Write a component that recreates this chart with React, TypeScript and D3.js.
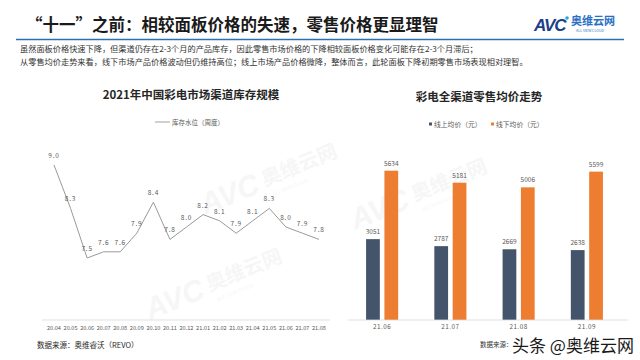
import React from 'react';
import * as d3 from 'd3';

// line chart: channel inventory (weeks)
const months = ['20.04', '20.05', '20.06', '20.07', '20.08', '20.09', '20.10', '20.11', '20.12', '21.01', '21.02', '21.03', '21.04', '21.05', '21.06', '21.07', '21.08'];
const stockWeeks = [9.0, 8.3, 7.5, 7.6, 7.6, 7.9, 8.4, 7.8, 8.0, 8.2, 8.1, 7.9, 8.1, 8.3, 8.0, 7.9, 7.8];

// bar chart: average retail price
const priceMonths = ['21.06', '21.07', '21.08', '21.09'];
const onlinePrice = [3051, 2787, 2669, 2638];
const offlinePrice = [5634, 5181, 5006, 5599];
const seriesKeys = ['online', 'offline'];
const seriesNames = ['线上均价（元）', '线下均价（元）'];
const seriesColors = ['#44546a', '#ed7d31'];

const FONT = '"Noto Sans CJK SC", "Noto Sans", sans-serif';

const Watermark = ({ x, y }: { x: number; y: number }) => (
  <g transform={`translate(${x},${y}) rotate(-22)`} opacity={0.35}>
    <text x={0} y={0} fontSize={30} fontWeight={900} fontStyle="italic" fill="#e6e6e6" fontFamily="Liberation Sans, sans-serif">AVC</text>
    <text x={66} y={-4} fontSize={20} fontWeight={700} fill="#e8e8e8" fontFamily={FONT}>奥维云网</text>
    <text x={70} y={8} fontSize={5} fill="#e8e8e8" fontFamily={FONT}>ALL VIEW CLOUD</text>
  </g>
);

const LineChart = () => {
  const x = d3.scalePoint<string>().domain(months).range([54, 319]);
  const y = d3.scaleLinear().domain([6.5, 9.5]).range([320, 134]);
  const path = d3.line<number>()
    .x((_, i) => x(months[i]) as number)
    .y(d => y(d))(stockWeeks);

  return (
    <g fontFamily={FONT}>
      <text x={191} y={99} textAnchor="middle" fontSize={11.5} fontWeight={700} fill="#262626">2021年中国彩电市场渠道库存规模</text>
      <line x1={155} x2={170} y1={122} y2={122} stroke="#8c8c8c" strokeWidth={0.8} />
      <text x={172} y={124.5} fontSize={6.5} fill="#595959">库存水位（周度）</text>
      <line x1={42} x2={330} y1={320} y2={320} stroke="#d9d9d9" strokeWidth={0.8} />
      <path d={path ?? ''} fill="none" stroke="#9a9a9a" strokeWidth={1} />
      {stockWeeks.map((v, i) => (
        <text key={months[i]} x={x(months[i])} y={y(v) - 7} textAnchor="middle" fontSize={6.5} fill="#595959" letterSpacing={0.8}>{v.toFixed(1)}</text>
      ))}
      {months.map(m => (
        <text key={m} x={x(m)} y={330} textAnchor="middle" fontSize={5.6} fill="#595959">{m}</text>
      ))}
      <text x={37} y={348} fontSize={7.5} fill="#262626">数据来源：奥维睿沃（REVO）</text>
    </g>
  );
};

const BarChart = () => {
  const x0 = d3.scaleBand<string>().domain(priceMonths).range([348, 621]).paddingInner(0.53).paddingOuter(0.265);
  const x1 = d3.scaleBand<string>().domain(seriesKeys).range([0, x0.bandwidth()]).paddingInner(0.25);
  const y = d3.scaleLinear().domain([0, 6000]).range([320, 161]);
  const values = [onlinePrice, offlinePrice];

  return (
    <g fontFamily={FONT}>
      <text x={479} y={101} textAnchor="middle" fontSize={11.5} fontWeight={700} fill="#262626">彩电全渠道零售均价走势</text>
      {seriesKeys.map((k, j) => (
        <g key={k} transform={`translate(${j === 0 ? 429 : 491},124)`}>
          <rect x={0} y={-1.5} width={3} height={3} fill={seriesColors[j]} />
          <text x={5} y={2.5} fontSize={6.8} fill="#595959">{seriesNames[j]}</text>
        </g>
      ))}
      {priceMonths.map((m, i) => (
        <g key={m} transform={`translate(${x0(m)},0)`}>
          {seriesKeys.map((k, j) => {
            const v = values[j][i];
            return (
              <g key={k}>
                <rect x={x1(k)} y={y(v)} width={x1.bandwidth()} height={y(0) - y(v)} fill={seriesColors[j]} />
                <text x={(x1(k) as number) + x1.bandwidth() / 2} y={y(v) - 5} textAnchor="middle" fontSize={6.5} fill="#595959">{v}</text>
              </g>
            );
          })}
          <text x={x0.bandwidth() / 2} y={328.5} textAnchor="middle" fontSize={6.3} fill="#595959" letterSpacing={0.5}>{m}</text>
        </g>
      ))}
      <line x1={348} x2={628} y1={320} y2={320} stroke="#d9d9d9" strokeWidth={0.8} />
    </g>
  );
};

export default function App() {
  return (
    <svg width={640} height={360} style={{ position: 'absolute', left: 0, top: 0, background: '#fff' }}>
      <rect width={640} height={360} fill="#fff" />
      <Watermark x={205} y={215} />
      <Watermark x={150} y={320} />
      <Watermark x={355} y={230} />
      {/* header */}
      <g fontFamily={FONT}>
        <text x={26} y={31} fontSize={16.5} fontWeight={700} fill="#1a1a1a">“十一”之前：相较面板价格的失速，零售价格更显理智</text>
        <line x1={16} x2={624} y1={39.5} y2={39.5} stroke="#2e6fae" strokeWidth={1.5} />
        <text x={20} y={52} fontSize={8.2} fill="#333">虽然面板价格快速下降，但渠道仍存在2-3个月的产品库存，因此零售市场价格的下降相较面板价格变化可能存在2-3个月滞后；</text>
        <text x={20} y={65} fontSize={8.2} fill="#333">从零售均价走势来看，线下市场产品价格波动但仍维持高位；线上市场产品价格微降，整体而言，此轮面板下降初期零售市场表现相对理智。</text>
        {/* logo */}
        <text x={534} y={31} fontSize={17} fontWeight={900} fontStyle="italic" fill="#1d3f8a" fontFamily="Liberation Sans, sans-serif" letterSpacing={-1}>AVC</text>
        <circle cx={567} cy={18} r={1.8} fill="#29a8e0" />
        <text x={571} y={25} fontSize={11} fontWeight={700} fill="#2a6fc4">奥维云网</text>
        <text x={576} y={32} fontSize={3.6} fill="#2a6fc4">ALL VIEW CLOUD</text>
      </g>
      <LineChart />
      <BarChart />
      {/* platform watermark */}
      <g fontFamily={FONT}>
        <text x={480} y={347} fontSize={6.5} fill="#333">数据来源：</text>
        <text x={512} y={352} fontSize={17} fill="#1a1a1a" stroke="#fff" strokeWidth={0.6} paintOrder="stroke">头条 @奥维云网</text>
      </g>
    </svg>
  );
}
